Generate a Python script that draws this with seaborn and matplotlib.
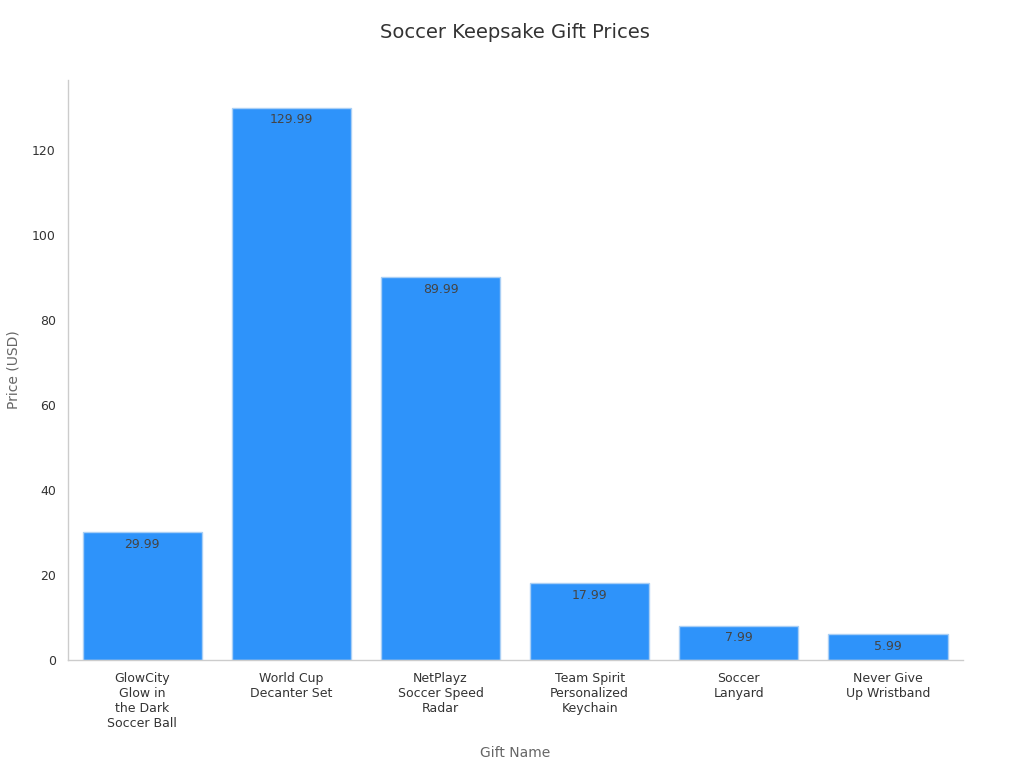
import matplotlib
matplotlib.use("Agg")
import matplotlib.pyplot as plt
import pandas as pd
import seaborn as sns

gifts = [
    "GlowCity\nGlow in\nthe Dark\nSoccer Ball",
    "World Cup\nDecanter Set",
    "NetPlayz\nSoccer Speed\nRadar",
    "Team Spirit\nPersonalized\nKeychain",
    "Soccer\nLanyard",
    "Never Give\nUp Wristband",
]
prices = [29.99, 129.99, 89.99, 17.99, 7.99, 5.99]

df = pd.DataFrame({"gift": gifts, "price": prices})

sns.set_style("white")
plt.rcParams["font.family"] = ["DejaVu Sans"]

fig = plt.figure(figsize=(10.24, 7.68), dpi=100)
ax = fig.add_axes([0.066, 0.141, 0.874, 0.755])

sns.barplot(data=df, x="gift", y="price", color="#2E93FA", saturation=1,
            width=0.8, edgecolor="#A9CFF5", linewidth=1, ax=ax)

for i, p in enumerate(prices):
    ax.annotate(f"{p:.2f}", (i, p), xytext=(0, -4), textcoords="offset points",
                ha="center", va="top", fontsize=9, color="#444444")

ax.set_xlim(-0.5, 5.5)
ax.set_ylim(0, 136.5)
ax.set_yticks([0, 20, 40, 60, 80, 100, 120])
ax.set_title("Soccer Keepsake Gift Prices", fontsize=14, color="#333333", pad=30)
ax.set_xlabel("Gift Name", fontsize=10, color="#666666", labelpad=12)
ax.set_ylabel("Price (USD)", fontsize=10, color="#666666", labelpad=8)
ax.tick_params(axis="both", labelsize=9, colors="#333333", length=5, width=0.8)
ax.tick_params(axis="x", color="#888888")
ax.tick_params(axis="y", color="#888888")
for s in ["top", "right"]:
    ax.spines[s].set_visible(False)
for s in ["left", "bottom"]:
    ax.spines[s].set_color("#CCCCCC")
    ax.spines[s].set_linewidth(1)

fig.savefig("out.png", dpi=100)
